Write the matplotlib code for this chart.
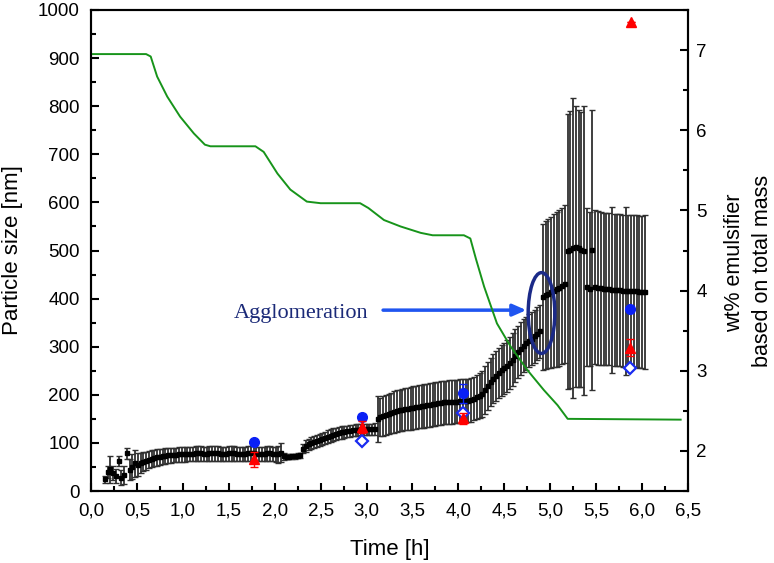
import matplotlib
matplotlib.use('Agg')
import matplotlib.pyplot as plt
import numpy as np
from matplotlib.patches import Ellipse
from matplotlib.ticker import MultipleLocator

plt.rcParams['font.family'] = ['Liberation Sans', 'DejaVu Sans']

# ---------------- data ----------------
STEP = 0.03  # h, sampling interval of the inline particle-size measurement

# early scattered points
early_t = [0.15, 0.18, 0.21, 0.24, 0.27, 0.30, 0.33, 0.36, 0.39, 0.42, 0.45, 0.48]
early_mean = [24, 40, 45, 38, 31, 62, 28, 33, 78, 44, 50, 58]
early_err = [8, 12, 28, 15, 14, 10, 16, 18, 12, 22, 26, 28]

# inline measurement, segment start times
seg_start = [0.51, 2.07, 2.31, 3.12, 4.17, 4.92, 5.19, 5.49]

seg1_mean = [55, 58, 61, 63, 65, 67, 68, 70, 71, 72, 73, 74, 74, 75, 75, 76, 76,
             76, 77, 77, 77, 78, 78, 78, 77, 77, 78, 78, 78, 78, 77, 77, 77, 78,
             78, 78, 77, 77, 77, 77, 78, 78, 78, 77, 77, 77, 77, 78, 78, 77, 76, 76]
seg1_err = [24, 21, 20, 19, 18, 18, 17, 17, 16, 16, 16, 15, 15, 15, 15, 15, 15,
            15, 15, 15, 15, 15, 15, 15, 15, 15, 15, 15, 15, 15, 15, 15, 15, 15,
            15, 15, 15, 15, 15, 15, 15, 15, 15, 15, 15, 15, 15, 15, 15, 15, 16, 17]
seg2_mean = [80, 72, 71, 71, 72, 72, 73, 74]
seg2_err = [20, 8, 5, 5, 5, 5, 5, 6]
seg3_mean = [88, 94, 97, 100, 102, 104, 106, 108, 110, 113, 115, 117, 119, 121,
             122, 123, 124, 125, 126, 127, 127, 128, 128, 128, 128, 128, 129]
seg3_err = [10, 12, 12, 13, 13, 13, 13, 13, 13, 13, 13, 13, 13, 13,
            13, 12, 12, 12, 12, 12, 12, 12, 12, 12, 12, 12, 12]
seg4_mean = [150, 154, 156, 158, 160, 162, 164, 166, 168, 169, 170, 171, 172, 173,
             174, 175, 176, 177, 178, 179, 180, 181, 182, 183, 184, 184, 185, 185,
             186, 186, 187, 187, 188, 188, 189]
seg4_err = [48, 40, 41, 41, 42, 42, 43, 43, 43, 44, 44, 44, 45, 45,
            45, 45, 45, 45, 45, 45, 45, 45, 45, 45, 45, 45, 45, 45,
            45, 45, 45, 45, 45, 45, 45]
seg5_mean = [192, 195, 198, 202, 210, 218, 226, 233, 240, 246, 251, 255, 260, 266,
             273, 281, 289, 296, 302, 307, 312, 317, 322, 327, 332]
seg5_err = [45, 46, 47, 48, 49, 50, 50, 51, 52, 52, 53, 53, 54, 54,
            55, 55, 55, 55, 55, 55, 55, 55, 55, 55, 55]
seg6_mean = [404, 407, 410, 413, 416, 419, 422, 426, 430]
seg6_err = [152, 154, 155, 157, 159, 161, 162, 163, 164]
seg7_mean = [498, 502, 505, 508, 505, 502, 500, 424, 420, 501]
seg7_err = [285, 288, 312, 292, 288, 286, 300, 165, 160, 291]
seg8_mean = [424, 422, 421, 420, 420, 419, 418, 418, 417, 417, 416, 416, 416, 415,
             415, 415, 414, 414, 414]
seg8_err = [160, 160, 159, 158, 158, 158, 172, 158, 158, 158, 158, 175, 158, 158,
            158, 158, 158, 158, 160]

seg_means = [seg1_mean, seg2_mean, seg3_mean, seg4_mean, seg5_mean, seg6_mean, seg7_mean, seg8_mean]
seg_errs = [seg1_err, seg2_err, seg3_err, seg4_err, seg5_err, seg6_err, seg7_err, seg8_err]

# offline reference measurements
circ_t = [1.78, 2.95, 4.05, 5.87]
circ_v = [101, 154, 203, 379]
circ_e = [4, 7, 20, 6]
tri_t = [1.78, 2.95, 4.05, 5.87, 5.88]
tri_v = [66, 133, 151, 298, 975]
tri_e = [16, 12, 12, 17, 0]
dia_t = [2.95, 4.05, 5.87]
dia_v = [104, 163, 255]

# emulsifier content (right axis)
wt_t = [0.0, 0.60, 0.65, 0.72, 0.83, 0.97, 1.12, 1.24, 1.30, 1.79, 1.88, 2.03, 2.17,
        2.35, 2.50, 2.93, 3.02, 3.19, 3.37, 3.59, 3.72, 4.06, 4.13, 4.19, 4.28, 4.42,
        4.57, 4.75, 4.93, 5.08, 5.19, 6.42]
wt_v = [6.95, 6.95, 6.92, 6.67, 6.42, 6.17, 5.96, 5.82, 5.80, 5.80, 5.73, 5.46, 5.26,
        5.11, 5.09, 5.09, 5.03, 4.88, 4.80, 4.72, 4.69, 4.69, 4.65, 4.40, 4.05, 3.59,
        3.30, 3.01, 2.76, 2.57, 2.40, 2.39]

x_ticks = [0.0, 0.5, 1.0, 1.5, 2.0, 2.5, 3.0, 3.5, 4.0, 4.5, 5.0, 5.5, 6.0, 6.5]
x_ticklabels = ['0,0', '0,5', '1,0', '1,5', '2,0', '2,5', '3,0', '3,5', '4,0', '4,5',
                '5,0', '5,5', '6,0', '6,5']

# ---------------- figure ----------------
fig = plt.figure(figsize=(7.74, 5.63), dpi=100)
ax = fig.add_axes([91 / 774, 1 - 491 / 563, (688 - 91) / 774, (491 - 10) / 563])

bar_kw = dict(fmt='s', ms=3.0, color='black', ecolor='#303030', elinewidth=1.3,
              capsize=2.4, capthick=1.0, zorder=2)
ax.errorbar(early_t, early_mean, yerr=early_err, **bar_kw)
for start, m, e in zip(seg_start, seg_means, seg_errs):
    t = start + STEP * np.arange(len(m))
    ax.errorbar(t, m, yerr=e, **bar_kw)

ax.errorbar(circ_t, circ_v, yerr=circ_e, fmt='o', ms=7, color='#0a20f5',
            ecolor='#0a20f5', elinewidth=1, capsize=3, zorder=4)
ax.errorbar(tri_t, tri_v, yerr=tri_e, fmt='^', ms=7.5, color='#ff0000',
            ecolor='#ff0000', elinewidth=1, capsize=3, zorder=5)
ax.plot(dia_t, dia_v, 'D', ms=6, mfc='white', mec='#1a2cf0', mew=1.6, ls='none', zorder=4)

ax.set_xlim(0, 6.5)
ax.set_ylim(0, 1000)
ax.set_xticks(x_ticks)
ax.set_xticklabels(x_ticklabels)
ax.xaxis.set_minor_locator(MultipleLocator(0.25))
ax.yaxis.set_major_locator(MultipleLocator(100))
ax.yaxis.set_minor_locator(MultipleLocator(50))
ax.tick_params(which='both', direction='in', top=False, right=False, width=1.5)
ax.tick_params(which='major', length=6, labelsize=13.5, pad=8)
ax.tick_params(which='minor', length=3.5)
for s in ax.spines.values():
    s.set_linewidth(1.5)

# annotation
ax.text(1.55, 359, 'Agglomeration', fontsize=16, color='#1b2a78',
        family=['Liberation Serif', 'DejaVu Serif'], ha='left', va='baseline', zorder=6)
ax.annotate('', xy=(4.74, 376), xytext=(3.18, 376),
            arrowprops=dict(arrowstyle='-|>,head_length=0.8,head_width=0.35',
                            color='#1f55f0', lw=2.5, shrinkA=0, shrinkB=0), zorder=6)
ax.add_patch(Ellipse((4.905, 370), 0.29, 168, fill=False, ec='#1b2a88', lw=2.5, zorder=6))

ax2 = ax.twinx()
ax2.plot(wt_t, wt_v, color='#17941a', lw=1.4)
ax2.set_ylim(1.5, 7.5)
ax2.yaxis.set_major_locator(MultipleLocator(1))
ax2.yaxis.set_minor_locator(MultipleLocator(0.5))
ax2.tick_params(which='both', direction='in', width=1.5)
ax2.tick_params(which='major', length=6, labelsize=13.5, pad=6)
ax2.tick_params(which='minor', length=3.5)
for s in ax2.spines.values():
    s.set_linewidth(1.5)

fig.text(389.5 / 774, 1 - 555 / 563, 'Time [h]', fontsize=16, ha='center', va='baseline')
fig.text(13 / 774, 1 - 250 / 563, 'Particle size [nm]', fontsize=16, rotation=90,
         ha='center', va='center')
fig.text(735 / 774, 1 - 263 / 563, 'wt% emulsifier', fontsize=15.5, rotation=90,
         ha='center', va='center')
fig.text(762 / 774, 1 - 271 / 563, 'based on total mass', fontsize=15.5, rotation=90,
         ha='center', va='center')

fig.savefig('out.png', dpi=100)
